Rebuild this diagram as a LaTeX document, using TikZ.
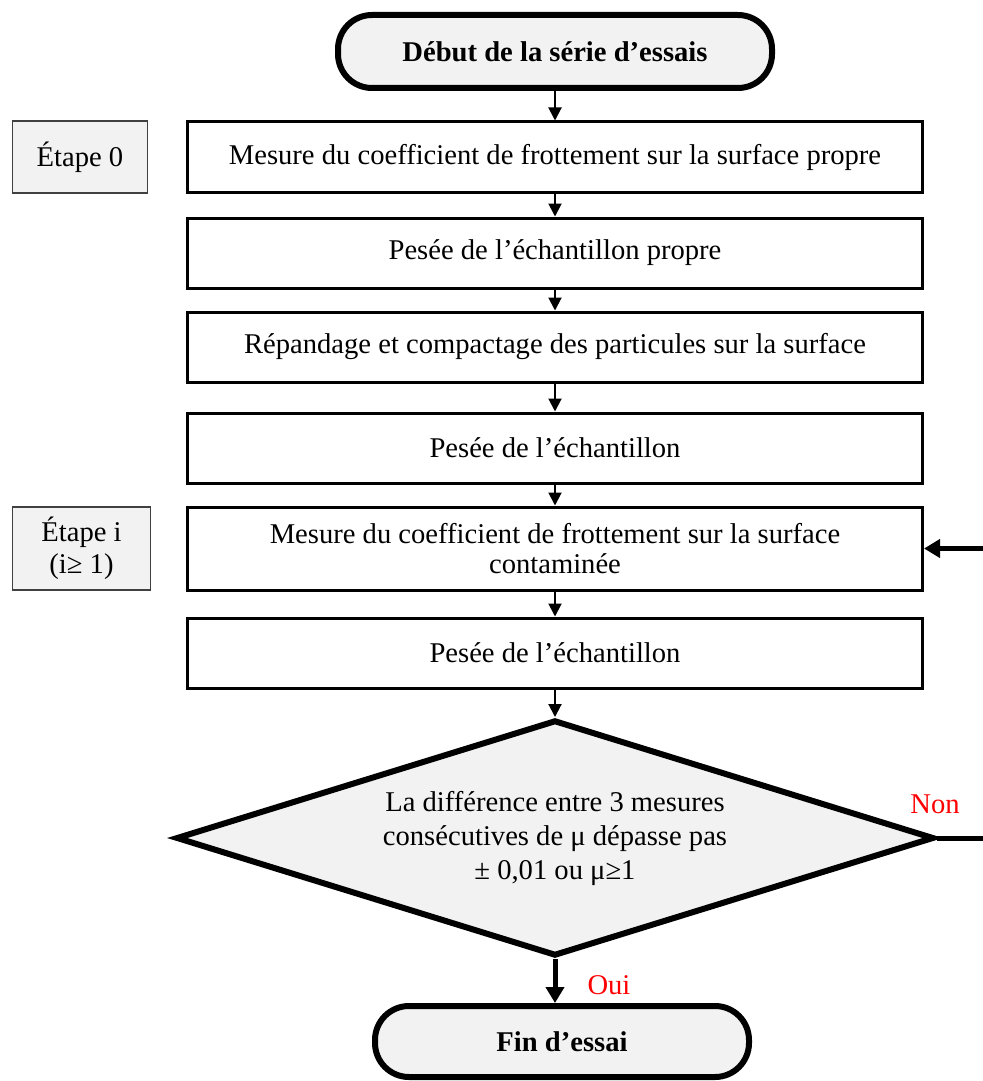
\documentclass[tikz,border=0pt]{standalone}
\usepackage{fontspec}
\setmainfont{Liberation Serif}
\usetikzlibrary{arrows.meta,positioning,shapes.geometric}
\definecolor{grisclair}{rgb}{0.95,0.95,0.95}
\definecolor{grisbord}{rgb}{0.25,0.25,0.25}
\tikzset{
  borne/.style={
    rectangle,
    rounded corners=17pt,
    draw=black,
    line width=3pt,
    fill=grisclair,
    align=center,
    minimum height=36.5pt
  },
  bloc/.style={
    rectangle,
    draw=black,
    line width=1.5pt,
    fill=white,
    align=center,
    minimum width=367.5pt,
    minimum height=35pt,
    inner sep=2pt
  },
  etape/.style={
    rectangle,
    draw=grisbord,
    line width=.75pt,
    fill=grisclair,
    align=center,
    minimum height=36pt,
    inner sep=2pt
  },
  decision/.style={
    diamond,
    aspect=3.2,
    draw=black,
    line width=3pt,
    fill=grisclair,
    align=center,
    minimum width=379pt,
    minimum height=118pt,
    inner sep=0pt
  },
  fleche/.style={
    -{Triangle[width=6.5pt,length=6.5pt]},
    line width=1pt
  },
  retour/.style={
    -{Triangle[width=9pt,length=8pt]},
    line width=2.5pt
  },
  reponse/.style={
    text=red,
    inner sep=0pt
  }
}

\begin{document}
\begin{tikzpicture}[x=0.5pt,y=-0.5pt,font=\fontsize{14.3}{17}\selectfont]
\useasboundingbox (0,0) rectangle (982,1081);
\node[borne, minimum width=217pt] (deb) at (555,51.5) {\textbf{Début de la série d’essais}};
\node[bloc, below=14.75pt of deb] (m0) {Mesure du coefficient de frottement sur la surface propre};
\node[bloc, below=11.5pt of m0] (m1) {Pesée de l’échantillon propre};
\node[bloc, below=10.5pt of m1] (m2) {Répandage et compactage des particules sur la surface};
\node[bloc, below=14pt of m2] (m3) {Pesée de l’échantillon};
\node[bloc, below=10.5pt of m3, minimum height=41.5pt] (m4) {Mesure du coefficient de frottement sur la surface\\[-2pt]contaminée};
\node[bloc, below=12.5pt of m4] (m5) {Pesée de l’échantillon};
\node[decision, below=13.75pt of m5] (diam) {La différence entre 3 mesures\\consécutives de μ dépasse pas\\± 0,01 ou μ≥1};
\node[borne, minimum width=187pt, minimum height=35.5pt, below=22pt of diam, xshift=3.5pt] (fin) {\textbf{Fin d’essai}};
\node[etape, left=18.875pt of m0, minimum width=67.5pt] (e0) {Étape 0};
\node[etape, left=17.375pt of m4, minimum width=69pt, minimum height=41.5pt] (ei) {Étape i\\[-1pt](i≥ 1)};
\node[reponse, above=12pt of diam.east, xshift=-1pt] (non) {Non};
\coordinate (boucle) at ([xshift=28pt]diam.east);
\draw[fleche] (deb) -- (m0);
\draw[fleche] (m0) -- (m1);
\draw[fleche] (m1) -- (m2);
\draw[fleche] (m2) -- (m3);
\draw[fleche] (m3) -- (m4);
\draw[fleche] (m4) -- (m5);
\draw[fleche] (m5) -- (diam);
\draw[retour] (diam.south) -- node[reponse, right=15pt, pos=.6] (oui) {Oui} (diam.south |- fin.north);
\draw[retour] (diam.east) -- (boucle) |- (m4.east);
\end{tikzpicture}
\end{document}
